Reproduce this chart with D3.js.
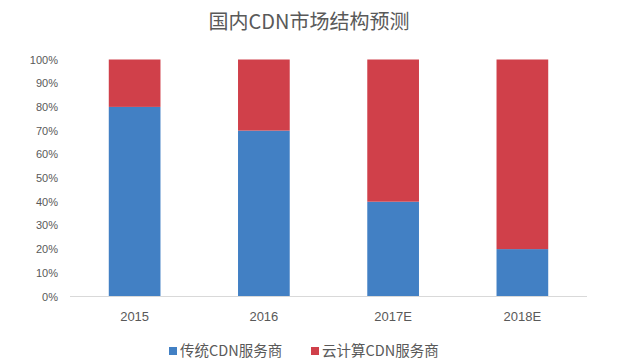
<!DOCTYPE html>
<html><head><meta charset="utf-8">
<script src="https://cdn.jsdelivr.net/npm/d3@7"></script>
<style>body{margin:0;background:#fff}</style>
</head><body>
<svg id="c" width="618" height="362"></svg>
<script>
const title = "国内CDN市场结构预测";
const categories = ["2015", "2016", "2017E", "2018E"];
const seriesNames = ["传统CDN服务商", "云计算CDN服务商"];
const traditional = [0.80, 0.70, 0.40, 0.20];
const cloud = [0.20, 0.30, 0.60, 0.80];
const yTicks = [0, 0.1, 0.2, 0.3, 0.4, 0.5, 0.6, 0.7, 0.8, 0.9, 1.0];
const colors = ["#4280C4", "#D0404A"];

const svg = d3.select("#c");
const pLeft = 70, pRight = 587, pTop = 59.5, pBottom = 296.5;
const x = d3.scaleBand().domain(categories).range([pLeft, pRight]).paddingInner(0.6).paddingOuter(0.3);
const y = d3.scaleLinear().domain([0, 1]).range([pBottom, pTop]);

const rows = categories.map((c, i) => ({cat: c, a: traditional[i], b: cloud[i]}));
const stack = d3.stack().keys(["a", "b"])(rows);

svg.append("text").attr("x", 309).attr("y", 29).attr("text-anchor", "middle")
  .attr("font-family", "Noto Sans CJK SC").attr("font-size", 20).attr("fill", "#595959")
  .text(title);

const g = svg.append("g");
stack.forEach((s, k) => {
  g.selectAll(null).data(s).join("rect")
    .attr("x", d => x(d.data.cat))
    .attr("width", x.bandwidth())
    .attr("y", d => y(d[1]))
    .attr("height", d => y(d[0]) - y(d[1]))
    .attr("fill", colors[k]);
});

// x axis
svg.append("line").attr("x1", pLeft).attr("x2", pRight).attr("y1", pBottom).attr("y2", pBottom)
  .attr("stroke", "#D9D9D9").attr("stroke-width", 1);
svg.selectAll(".xl").data(categories).join("text")
  .attr("x", d => x(d) + x.bandwidth() / 2).attr("y", 321)
  .attr("text-anchor", "middle").attr("font-family", "Liberation Sans, Arial").attr("font-size", 13)
  .attr("fill", "#595959").text(d => d);

// y labels
svg.selectAll(".yl").data(yTicks).join("text")
  .attr("x", 58).attr("y", d => y(d) + 4).attr("text-anchor", "end")
  .attr("font-family", "Liberation Sans, Arial").attr("font-size", 11)
  .attr("fill", "#595959").text(d => d3.format(".0%")(d));

// legend
const lx = [169, 311];
seriesNames.forEach((n, i) => {
  svg.append("rect").attr("x", lx[i]).attr("y", 347).attr("width", 8).attr("height", 8).attr("fill", colors[i]);
  svg.append("text").attr("x", lx[i] + 11).attr("y", 356).attr("font-family", "Noto Sans CJK SC")
    .attr("font-size", 14.5).attr("fill", "#595959").text(n);
});
</script>
</body></html>
